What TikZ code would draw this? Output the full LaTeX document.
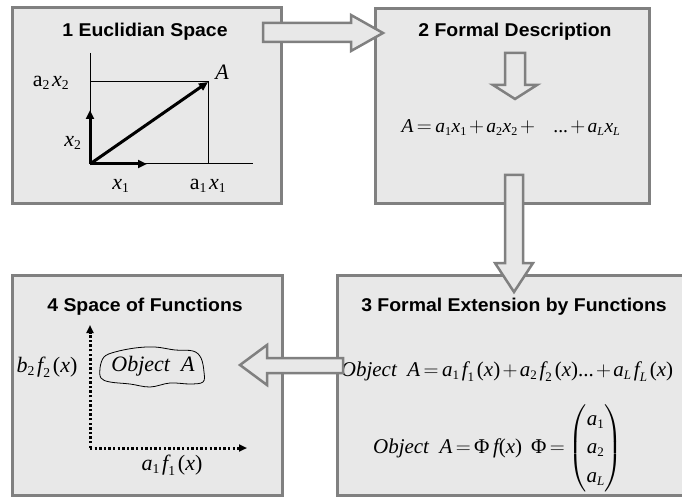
\documentclass[tikz,border=0pt]{standalone}
\usepackage{amsmath}
\usepackage{fontspec}
\setmainfont{Liberation Serif}
\newfontfamily\titlefont[FakeStretch=1.05]{Liberation Sans}
\usetikzlibrary{arrows.meta}
\renewcommand\defaultscriptratio{.62}
\renewcommand\defaultscriptscriptratio{.5}
\definecolor{boxfill}{RGB}{232,232,232}
\definecolor{boxborder}{RGB}{128,128,128}
\newcommand\vI[1]{\text{\normalfont\itshape #1}}
\newcommand\vR[1]{\text{\normalfont #1}}
\newcommand\sbR[1]{_{\vR{#1}}\mkern2mu}
\newcommand\sbI[1]{_{\vI{#1}}\mkern2mu}
\newcommand\tightmath{\thickmuskip=3mu\relax\medmuskip=2mu\relax}
\tikzset{
  box/.style={draw=boxborder, fill=boxfill, line width=3pt, inner sep=0pt},
  blockarrow/.style={draw=boxborder, fill=boxfill, line width=2.5pt, line join=miter},
  ttl/.style={font=\titlefont\bfseries\fontsize{18.5}{22}\selectfont, inner sep=0pt},
  lbl/.style={font=\fontsize{22}{26}\selectfont, inner sep=0pt},
  frm/.style={font=\fontsize{19.5}{24}\selectfont, inner sep=0pt},
  frmb/.style={font=\fontsize{21}{25}\selectfont, inner sep=0pt},
  thinline/.style={line width=1pt},
  thickvec/.style={line width=3pt, -{Triangle[length=9pt,width=8pt]}},
  dotvec/.style={line width=3pt, dash pattern=on 2.4pt off 2.2pt, -{Triangle[length=8pt,width=7pt]}},
  blob/.style={line width=0.8pt},
}
\begin{document}
\begin{tikzpicture}[x=1pt,y=-1pt]
\useasboundingbox (0,0) rectangle (682,497);
\clip (0,0) rectangle (682,497);
\fill[white] (0,0) rectangle (682,497);
% boxes
\node[box, minimum width=269pt, minimum height=195pt] (b1) at (146.5,105.5) {};
\node[box, minimum width=274pt, minimum height=194pt] (b2) at (512,106) {};
\node[box, minimum width=270pt, minimum height=220pt] (b4) at (147,385) {};
\node[box, minimum width=355pt, minimum height=220pt] (b3) at (514.5,385) {};
% titles
\node[ttl] (t1) at (145,32) {1 Euclidian Space};
\node[ttl] (t2) at (515,32) {2 Formal Description};
\node[ttl] (t3) at (514,307) {3 Formal Extension by Functions};
\node[ttl] (t4) at (145,307) {4 Space of Functions};
% box 1 geometry
\coordinate (o) at (90,164);
\coordinate (ytop) at (90,53);
\coordinate (xend) at (253,164);
\coordinate (pA) at (208,82);
\coordinate (pAy) at (90,82);
\coordinate (pAx) at (208,164);
\coordinate (e2) at (90,110);
\coordinate (e1) at (147,164);
\draw[thinline] (ytop) -- (o) -- (xend);
\draw[thinline] (pAy) -- (pA) -- (pAx);
\draw[thickvec] (o) -- (e2);
\draw[thickvec] (o) -- (e1);
\draw[thickvec] (o) -- (pA);
\node[lbl] (lA) at (222,72) {\itshape A};
\node[lbl] (la2x2) at (51,83) {$\vR{a}\sbR{2}\vI{x}_{\vR{2}}$};
\node[lbl] (lx2) at (73,143) {$\vI{x}_{\vR{2}}$};
\node[lbl] (lx1) at (121,186) {$\vI{x}_{\vR{1}}$};
\node[lbl] (la1x1) at (208,186) {$\vR{a}\sbR{1}\vI{x}_{\vR{1}}$};
% box 2 formula
\node[frm] (f2) at (511,128) {$\tightmath\vI{A}=\vI{a}_{\vR1}\vI{x}_{\vR1}+\vI{a}_{\vR2}\vI{x}_{\vR2}+\hspace{16pt}\vR{...}+\vI{a}_{\vI{L}}\vI{x}_{\vI{L}}$};
% box 3 formulas
\node[frmb] (f3a) at (507,372) {$\tightmath\vI{Object}\ \ \vI{A}=\vI{a}\sbR1\vI{f}\sbR1\vR{(}\vI{x}\vR{)}+\vI{a}\sbR2\vI{f}\sbR2\vR{(}\vI{x}\vR{)}\vR{...}+\vI{a}\sbI{L}\vI{f}\sbI{L}\vR{(}\vI{x}\vR{)}$};
\node[frmb] (f3b) at (498,448) {$\tightmath\renewcommand\arraystretch{1.15}\vI{Object}\ \ \vI{A}=\vR{Φ}\;\vI{f}\vR{(}\vI{x}\vR{)}\hspace{9pt}\vR{Φ}=\begin{pmatrix}\vI{a}_{\vR1}\\ \vI{a}_{\vR2}\\ \vI{a}_{\vI{L}}\end{pmatrix}$};
% box 4
\coordinate (o4) at (90,448);
\coordinate (y4) at (90,325);
\coordinate (x4) at (247,448);
\draw[dotvec] (o4) -- (y4);
\draw[dotvec] (o4) -- (x4);
\node[lbl] (lb2) at (47,367) {$\vI{b}\sbR2\vI{f}\sbR2\vR{(}\vI{x}\vR{)}$};
\node[lbl] (la1) at (172,465) {$\vI{a}\sbR1\vI{f}\sbR1\vR{(}\vI{x}\vR{)}$};
\node[lbl] (objA) at (153,366) {\itshape Object\ \ A};
\draw[blob] plot[smooth cycle, tension=0.6] coordinates {(100,368) (104,357) (115,352) (135,348) (155,347) (175,350) (193,351) (201,358) (204,372) (203,382) (190,384) (170,383) (150,387) (130,384) (110,382) (101,378)};
% block arrows
\draw[blockarrow] (263,23) -- (351,23) -- (351,15) -- (383,33) -- (351,51) -- (351,42) -- (263,42) -- cycle;
\draw[blockarrow] (505,53) -- (525,53) -- (525,85) -- (537,85) -- (515,99) -- (493,85) -- (505,85) -- cycle;
\draw[blockarrow] (505,175) -- (523,175) -- (523,263) -- (533,263) -- (514,292) -- (495,263) -- (505,263) -- cycle;
\draw[blockarrow] (343,358) -- (267,358) -- (267,345) -- (240,365) -- (267,385) -- (267,373) -- (343,373) -- cycle;
\end{tikzpicture}
\end{document}
